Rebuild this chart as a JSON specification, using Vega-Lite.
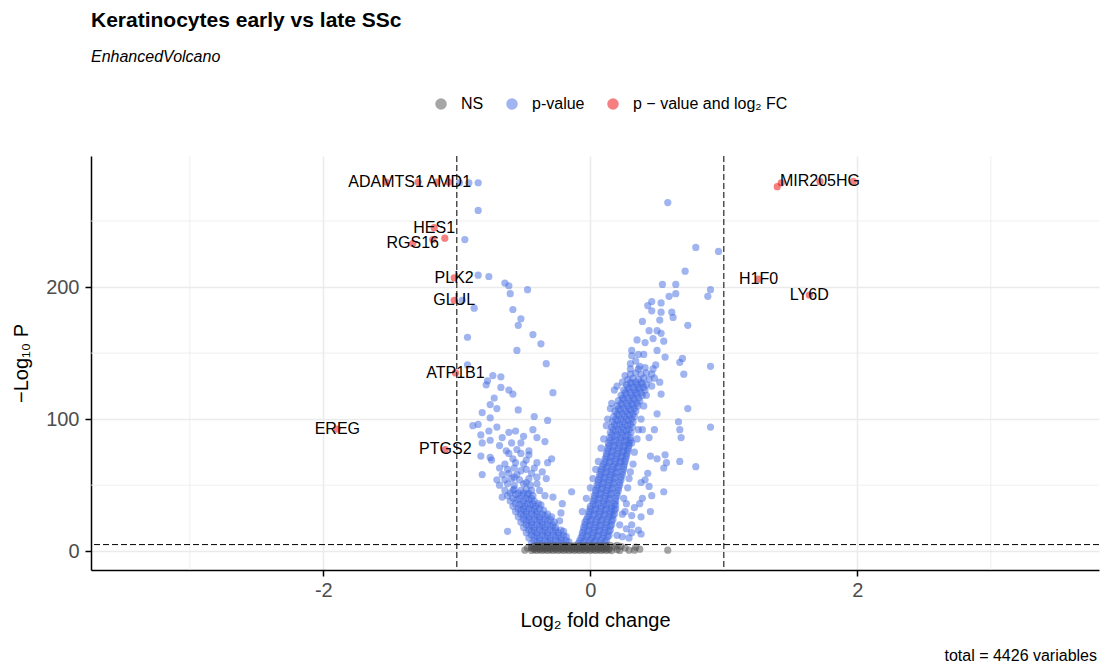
{
"$schema":"https://vega.github.io/schema/vega-lite/v6.json",
"width":1008,"height":414,
"autosize":{"type":"none"},
"padding":{"left":91,"top":156,"right":5,"bottom":94},
"background":"white",
"title":{"text":"Keratinocytes early vs late SSc","subtitle":"EnhancedVolcano","anchor":"start","frame":"group","fontSize":21,"fontWeight":"bold","color":"black","font":"Liberation Sans","subtitleFont":"Liberation Sans","subtitleFontSize":16,"subtitleFontStyle":"italic","subtitleColor":"black","subtitlePadding":18,"offset":31},
"config":{
"font":"Liberation Sans",
"view":{"stroke":null},
"axis":{"domainColor":"black","domainWidth":1.5,"tickColor":"black","tickWidth":1.5,"tickSize":6,"gridColor":"#ebebeb","gridWidth":1.5,"labelFont":"Liberation Sans","labelFontSize":20,"labelColor":"#4d4d4d","titleFont":"Liberation Sans","titleFontSize":20,"titleFontWeight":"normal","titleColor":"black"}
},
"datasets":{"genes":[
{"log2FC":-0.09,"mlog10P":6,"sig":"P"},{"log2FC":-0.05,"mlog10P":7,"sig":"P"},{"log2FC":-0.01,"mlog10P":6,"sig":"P"},{"log2FC":0.03,"mlog10P":7,"sig":"P"},{"log2FC":0.07,"mlog10P":6,"sig":"P"},{"log2FC":0.11,"mlog10P":7,"sig":"P"},
{"log2FC":-0.07,"mlog10P":10,"sig":"P"},{"log2FC":-0.03,"mlog10P":11,"sig":"P"},{"log2FC":0.01,"mlog10P":10,"sig":"P"},{"log2FC":0.05,"mlog10P":11,"sig":"P"},{"log2FC":0.09,"mlog10P":10,"sig":"P"},{"log2FC":0.13,"mlog10P":11,"sig":"P"},
{"log2FC":-0.06,"mlog10P":14,"sig":"P"},{"log2FC":-0.02,"mlog10P":15,"sig":"P"},{"log2FC":0.02,"mlog10P":14,"sig":"P"},{"log2FC":0.06,"mlog10P":15,"sig":"P"},{"log2FC":0.10,"mlog10P":14,"sig":"P"},{"log2FC":0.14,"mlog10P":15,"sig":"P"},
{"log2FC":-0.05,"mlog10P":18,"sig":"P"},{"log2FC":-0.01,"mlog10P":19,"sig":"P"},{"log2FC":0.03,"mlog10P":18,"sig":"P"},{"log2FC":0.07,"mlog10P":19,"sig":"P"},{"log2FC":0.11,"mlog10P":18,"sig":"P"},{"log2FC":0.15,"mlog10P":19,"sig":"P"},
{"log2FC":-0.04,"mlog10P":22,"sig":"P"},{"log2FC":0.0,"mlog10P":23,"sig":"P"},{"log2FC":0.04,"mlog10P":22,"sig":"P"},{"log2FC":0.08,"mlog10P":23,"sig":"P"},{"log2FC":0.12,"mlog10P":22,"sig":"P"},{"log2FC":0.16,"mlog10P":23,"sig":"P"},
{"log2FC":-0.02,"mlog10P":26,"sig":"P"},{"log2FC":0.02,"mlog10P":27,"sig":"P"},{"log2FC":0.06,"mlog10P":26,"sig":"P"},{"log2FC":0.10,"mlog10P":27,"sig":"P"},{"log2FC":0.14,"mlog10P":26,"sig":"P"},{"log2FC":0.17,"mlog10P":27,"sig":"P"},
{"log2FC":-0.01,"mlog10P":30,"sig":"P"},{"log2FC":0.03,"mlog10P":31,"sig":"P"},{"log2FC":0.07,"mlog10P":30,"sig":"P"},{"log2FC":0.11,"mlog10P":31,"sig":"P"},{"log2FC":0.15,"mlog10P":30,"sig":"P"},{"log2FC":0.18,"mlog10P":31,"sig":"P"},
{"log2FC":0.0,"mlog10P":34,"sig":"P"},{"log2FC":0.04,"mlog10P":35,"sig":"P"},{"log2FC":0.08,"mlog10P":34,"sig":"P"},{"log2FC":0.12,"mlog10P":35,"sig":"P"},{"log2FC":0.16,"mlog10P":34,"sig":"P"},{"log2FC":0.19,"mlog10P":35,"sig":"P"},
{"log2FC":0.02,"mlog10P":38,"sig":"P"},{"log2FC":0.06,"mlog10P":39,"sig":"P"},{"log2FC":0.10,"mlog10P":38,"sig":"P"},{"log2FC":0.14,"mlog10P":39,"sig":"P"},{"log2FC":0.19,"mlog10P":38,"sig":"P"},
{"log2FC":0.03,"mlog10P":42,"sig":"P"},{"log2FC":0.07,"mlog10P":43,"sig":"P"},{"log2FC":0.11,"mlog10P":42,"sig":"P"},{"log2FC":0.15,"mlog10P":43,"sig":"P"},{"log2FC":0.20,"mlog10P":42,"sig":"P"},
{"log2FC":0.04,"mlog10P":46,"sig":"P"},{"log2FC":0.08,"mlog10P":47,"sig":"P"},{"log2FC":0.12,"mlog10P":46,"sig":"P"},{"log2FC":0.16,"mlog10P":47,"sig":"P"},{"log2FC":0.21,"mlog10P":46,"sig":"P"},
{"log2FC":0.05,"mlog10P":50,"sig":"P"},{"log2FC":0.09,"mlog10P":51,"sig":"P"},{"log2FC":0.13,"mlog10P":50,"sig":"P"},{"log2FC":0.17,"mlog10P":51,"sig":"P"},{"log2FC":0.22,"mlog10P":50,"sig":"P"},
{"log2FC":0.06,"mlog10P":54,"sig":"P"},{"log2FC":0.10,"mlog10P":55,"sig":"P"},{"log2FC":0.14,"mlog10P":54,"sig":"P"},{"log2FC":0.18,"mlog10P":55,"sig":"P"},{"log2FC":0.23,"mlog10P":54,"sig":"P"},
{"log2FC":0.07,"mlog10P":58,"sig":"P"},{"log2FC":0.11,"mlog10P":59,"sig":"P"},{"log2FC":0.15,"mlog10P":58,"sig":"P"},{"log2FC":0.19,"mlog10P":59,"sig":"P"},{"log2FC":0.24,"mlog10P":58,"sig":"P"},
{"log2FC":0.08,"mlog10P":62,"sig":"P"},{"log2FC":0.12,"mlog10P":63,"sig":"P"},{"log2FC":0.16,"mlog10P":62,"sig":"P"},{"log2FC":0.20,"mlog10P":63,"sig":"P"},{"log2FC":0.25,"mlog10P":62,"sig":"P"},
{"log2FC":0.10,"mlog10P":66,"sig":"P"},{"log2FC":0.14,"mlog10P":67,"sig":"P"},{"log2FC":0.18,"mlog10P":66,"sig":"P"},{"log2FC":0.22,"mlog10P":67,"sig":"P"},{"log2FC":0.255,"mlog10P":66,"sig":"P"},
{"log2FC":0.11,"mlog10P":70,"sig":"P"},{"log2FC":0.15,"mlog10P":71,"sig":"P"},{"log2FC":0.19,"mlog10P":70,"sig":"P"},{"log2FC":0.23,"mlog10P":71,"sig":"P"},{"log2FC":0.265,"mlog10P":70,"sig":"P"},
{"log2FC":0.12,"mlog10P":74,"sig":"P"},{"log2FC":0.16,"mlog10P":75,"sig":"P"},{"log2FC":0.20,"mlog10P":74,"sig":"P"},{"log2FC":0.24,"mlog10P":75,"sig":"P"},{"log2FC":0.275,"mlog10P":74,"sig":"P"},
{"log2FC":0.13,"mlog10P":78,"sig":"P"},{"log2FC":0.17,"mlog10P":79,"sig":"P"},{"log2FC":0.21,"mlog10P":78,"sig":"P"},{"log2FC":0.25,"mlog10P":79,"sig":"P"},{"log2FC":0.285,"mlog10P":78,"sig":"P"},
{"log2FC":0.135,"mlog10P":82,"sig":"P"},{"log2FC":0.175,"mlog10P":83,"sig":"P"},{"log2FC":0.215,"mlog10P":82,"sig":"P"},{"log2FC":0.255,"mlog10P":83,"sig":"P"},{"log2FC":0.29,"mlog10P":82,"sig":"P"},
{"log2FC":0.145,"mlog10P":86,"sig":"P"},{"log2FC":0.185,"mlog10P":87,"sig":"P"},{"log2FC":0.225,"mlog10P":86,"sig":"P"},{"log2FC":0.265,"mlog10P":87,"sig":"P"},{"log2FC":0.30,"mlog10P":86,"sig":"P"},
{"log2FC":0.15,"mlog10P":90,"sig":"P"},{"log2FC":0.19,"mlog10P":91,"sig":"P"},{"log2FC":0.23,"mlog10P":90,"sig":"P"},{"log2FC":0.27,"mlog10P":91,"sig":"P"},{"log2FC":0.305,"mlog10P":90,"sig":"P"},
{"log2FC":0.16,"mlog10P":94,"sig":"P"},{"log2FC":0.20,"mlog10P":95,"sig":"P"},{"log2FC":0.24,"mlog10P":94,"sig":"P"},{"log2FC":0.28,"mlog10P":95,"sig":"P"},{"log2FC":0.315,"mlog10P":94,"sig":"P"},
{"log2FC":0.165,"mlog10P":98,"sig":"P"},{"log2FC":0.205,"mlog10P":99,"sig":"P"},{"log2FC":0.245,"mlog10P":98,"sig":"P"},{"log2FC":0.285,"mlog10P":99,"sig":"P"},{"log2FC":0.32,"mlog10P":98,"sig":"P"},
{"log2FC":0.175,"mlog10P":102,"sig":"P"},{"log2FC":0.215,"mlog10P":103,"sig":"P"},{"log2FC":0.255,"mlog10P":102,"sig":"P"},{"log2FC":0.295,"mlog10P":103,"sig":"P"},{"log2FC":0.33,"mlog10P":102,"sig":"P"},
{"log2FC":0.185,"mlog10P":106,"sig":"P"},{"log2FC":0.225,"mlog10P":107,"sig":"P"},{"log2FC":0.265,"mlog10P":106,"sig":"P"},{"log2FC":0.305,"mlog10P":107,"sig":"P"},{"log2FC":0.34,"mlog10P":106,"sig":"P"},
{"log2FC":0.20,"mlog10P":110,"sig":"P"},{"log2FC":0.24,"mlog10P":111,"sig":"P"},{"log2FC":0.28,"mlog10P":110,"sig":"P"},{"log2FC":0.32,"mlog10P":111,"sig":"P"},{"log2FC":0.355,"mlog10P":110,"sig":"P"},
{"log2FC":0.21,"mlog10P":114,"sig":"P"},{"log2FC":0.25,"mlog10P":115,"sig":"P"},{"log2FC":0.29,"mlog10P":114,"sig":"P"},{"log2FC":0.33,"mlog10P":115,"sig":"P"},{"log2FC":0.37,"mlog10P":114,"sig":"P"},
{"log2FC":0.23,"mlog10P":118,"sig":"P"},{"log2FC":0.27,"mlog10P":119,"sig":"P"},{"log2FC":0.31,"mlog10P":118,"sig":"P"},{"log2FC":0.35,"mlog10P":119,"sig":"P"},{"log2FC":0.39,"mlog10P":118,"sig":"P"},
{"log2FC":0.25,"mlog10P":122,"sig":"P"},{"log2FC":0.29,"mlog10P":123,"sig":"P"},{"log2FC":0.33,"mlog10P":122,"sig":"P"},{"log2FC":0.37,"mlog10P":123,"sig":"P"},{"log2FC":0.41,"mlog10P":122,"sig":"P"},
{"log2FC":0.27,"mlog10P":126,"sig":"P"},{"log2FC":0.31,"mlog10P":127,"sig":"P"},{"log2FC":0.35,"mlog10P":126,"sig":"P"},{"log2FC":0.39,"mlog10P":127,"sig":"P"},{"log2FC":0.42,"mlog10P":126,"sig":"P"},{"log2FC":0.46,"mlog10P":125,"sig":"P"},
{"log2FC":0.28,"mlog10P":130,"sig":"P"},{"log2FC":0.32,"mlog10P":131,"sig":"P"},{"log2FC":0.36,"mlog10P":130,"sig":"P"},{"log2FC":0.40,"mlog10P":131,"sig":"P"},{"log2FC":0.44,"mlog10P":130,"sig":"P"},{"log2FC":0.48,"mlog10P":131,"sig":"P"},
{"log2FC":0.30,"mlog10P":134,"sig":"P"},{"log2FC":0.34,"mlog10P":135,"sig":"P"},{"log2FC":0.38,"mlog10P":134,"sig":"P"},{"log2FC":0.42,"mlog10P":135,"sig":"P"},{"log2FC":0.46,"mlog10P":134,"sig":"P"},
{"log2FC":0.30,"mlog10P":138,"sig":"P"},{"log2FC":0.36,"mlog10P":138,"sig":"P"},{"log2FC":0.41,"mlog10P":139,"sig":"P"},{"log2FC":0.47,"mlog10P":138,"sig":"P"},
{"log2FC":-0.08,"mlog10P":8,"sig":"P"},{"log2FC":-0.04,"mlog10P":8,"sig":"P"},{"log2FC":0.0,"mlog10P":8,"sig":"P"},{"log2FC":0.04,"mlog10P":8,"sig":"P"},{"log2FC":0.08,"mlog10P":8,"sig":"P"},{"log2FC":0.12,"mlog10P":8,"sig":"P"},
{"log2FC":-0.06,"mlog10P":12,"sig":"P"},{"log2FC":-0.02,"mlog10P":12,"sig":"P"},{"log2FC":0.02,"mlog10P":12,"sig":"P"},{"log2FC":0.06,"mlog10P":12,"sig":"P"},{"log2FC":0.10,"mlog10P":12,"sig":"P"},{"log2FC":0.14,"mlog10P":12,"sig":"P"},
{"log2FC":-0.05,"mlog10P":16,"sig":"P"},{"log2FC":-0.01,"mlog10P":16,"sig":"P"},{"log2FC":0.03,"mlog10P":16,"sig":"P"},{"log2FC":0.07,"mlog10P":16,"sig":"P"},{"log2FC":0.11,"mlog10P":16,"sig":"P"},{"log2FC":0.15,"mlog10P":16,"sig":"P"},
{"log2FC":-0.04,"mlog10P":20,"sig":"P"},{"log2FC":0.0,"mlog10P":20,"sig":"P"},{"log2FC":0.04,"mlog10P":20,"sig":"P"},{"log2FC":0.08,"mlog10P":20,"sig":"P"},{"log2FC":0.12,"mlog10P":20,"sig":"P"},{"log2FC":0.16,"mlog10P":20,"sig":"P"},
{"log2FC":-0.03,"mlog10P":24,"sig":"P"},{"log2FC":0.01,"mlog10P":24,"sig":"P"},{"log2FC":0.05,"mlog10P":24,"sig":"P"},{"log2FC":0.09,"mlog10P":24,"sig":"P"},{"log2FC":0.13,"mlog10P":24,"sig":"P"},{"log2FC":0.17,"mlog10P":24,"sig":"P"},
{"log2FC":-0.01,"mlog10P":28,"sig":"P"},{"log2FC":0.03,"mlog10P":28,"sig":"P"},{"log2FC":0.07,"mlog10P":28,"sig":"P"},{"log2FC":0.11,"mlog10P":28,"sig":"P"},{"log2FC":0.15,"mlog10P":28,"sig":"P"},{"log2FC":0.18,"mlog10P":28,"sig":"P"},
{"log2FC":0.0,"mlog10P":32,"sig":"P"},{"log2FC":0.04,"mlog10P":32,"sig":"P"},{"log2FC":0.08,"mlog10P":32,"sig":"P"},{"log2FC":0.12,"mlog10P":32,"sig":"P"},{"log2FC":0.16,"mlog10P":32,"sig":"P"},{"log2FC":0.19,"mlog10P":32,"sig":"P"},
{"log2FC":0.02,"mlog10P":36,"sig":"P"},{"log2FC":0.06,"mlog10P":36,"sig":"P"},{"log2FC":0.10,"mlog10P":36,"sig":"P"},{"log2FC":0.14,"mlog10P":36,"sig":"P"},{"log2FC":0.18,"mlog10P":36,"sig":"P"},
{"log2FC":0.03,"mlog10P":40,"sig":"P"},{"log2FC":0.07,"mlog10P":40,"sig":"P"},{"log2FC":0.11,"mlog10P":40,"sig":"P"},{"log2FC":0.15,"mlog10P":40,"sig":"P"},{"log2FC":0.19,"mlog10P":40,"sig":"P"},
{"log2FC":0.04,"mlog10P":44,"sig":"P"},{"log2FC":0.08,"mlog10P":44,"sig":"P"},{"log2FC":0.12,"mlog10P":44,"sig":"P"},{"log2FC":0.16,"mlog10P":44,"sig":"P"},{"log2FC":0.20,"mlog10P":44,"sig":"P"},
{"log2FC":0.05,"mlog10P":48,"sig":"P"},{"log2FC":0.09,"mlog10P":48,"sig":"P"},{"log2FC":0.13,"mlog10P":48,"sig":"P"},{"log2FC":0.17,"mlog10P":48,"sig":"P"},{"log2FC":0.21,"mlog10P":48,"sig":"P"},
{"log2FC":0.06,"mlog10P":52,"sig":"P"},{"log2FC":0.10,"mlog10P":52,"sig":"P"},{"log2FC":0.14,"mlog10P":52,"sig":"P"},{"log2FC":0.18,"mlog10P":52,"sig":"P"},{"log2FC":0.22,"mlog10P":52,"sig":"P"},
{"log2FC":0.07,"mlog10P":56,"sig":"P"},{"log2FC":0.11,"mlog10P":56,"sig":"P"},{"log2FC":0.15,"mlog10P":56,"sig":"P"},{"log2FC":0.19,"mlog10P":56,"sig":"P"},{"log2FC":0.23,"mlog10P":56,"sig":"P"},
{"log2FC":0.08,"mlog10P":60,"sig":"P"},{"log2FC":0.12,"mlog10P":60,"sig":"P"},{"log2FC":0.16,"mlog10P":60,"sig":"P"},{"log2FC":0.20,"mlog10P":60,"sig":"P"},{"log2FC":0.24,"mlog10P":60,"sig":"P"},
{"log2FC":0.09,"mlog10P":64,"sig":"P"},{"log2FC":0.13,"mlog10P":64,"sig":"P"},{"log2FC":0.17,"mlog10P":64,"sig":"P"},{"log2FC":0.21,"mlog10P":64,"sig":"P"},{"log2FC":0.25,"mlog10P":64,"sig":"P"},
{"log2FC":0.11,"mlog10P":68,"sig":"P"},{"log2FC":0.15,"mlog10P":68,"sig":"P"},{"log2FC":0.19,"mlog10P":68,"sig":"P"},{"log2FC":0.23,"mlog10P":68,"sig":"P"},{"log2FC":0.26,"mlog10P":68,"sig":"P"},
{"log2FC":0.12,"mlog10P":72,"sig":"P"},{"log2FC":0.16,"mlog10P":72,"sig":"P"},{"log2FC":0.20,"mlog10P":72,"sig":"P"},{"log2FC":0.24,"mlog10P":72,"sig":"P"},{"log2FC":0.27,"mlog10P":72,"sig":"P"},
{"log2FC":0.13,"mlog10P":76,"sig":"P"},{"log2FC":0.17,"mlog10P":76,"sig":"P"},{"log2FC":0.21,"mlog10P":76,"sig":"P"},{"log2FC":0.25,"mlog10P":76,"sig":"P"},{"log2FC":0.28,"mlog10P":76,"sig":"P"},
{"log2FC":0.14,"mlog10P":80,"sig":"P"},{"log2FC":0.18,"mlog10P":80,"sig":"P"},{"log2FC":0.22,"mlog10P":80,"sig":"P"},{"log2FC":0.26,"mlog10P":80,"sig":"P"},{"log2FC":0.29,"mlog10P":80,"sig":"P"},
{"log2FC":0.15,"mlog10P":84,"sig":"P"},{"log2FC":0.19,"mlog10P":84,"sig":"P"},{"log2FC":0.23,"mlog10P":84,"sig":"P"},{"log2FC":0.27,"mlog10P":84,"sig":"P"},{"log2FC":0.30,"mlog10P":84,"sig":"P"},
{"log2FC":0.16,"mlog10P":88,"sig":"P"},{"log2FC":0.20,"mlog10P":88,"sig":"P"},{"log2FC":0.24,"mlog10P":88,"sig":"P"},{"log2FC":0.28,"mlog10P":88,"sig":"P"},
{"log2FC":0.17,"mlog10P":92,"sig":"P"},{"log2FC":0.21,"mlog10P":92,"sig":"P"},{"log2FC":0.25,"mlog10P":92,"sig":"P"},{"log2FC":0.29,"mlog10P":92,"sig":"P"},
{"log2FC":0.18,"mlog10P":96,"sig":"P"},{"log2FC":0.22,"mlog10P":96,"sig":"P"},{"log2FC":0.26,"mlog10P":96,"sig":"P"},{"log2FC":0.30,"mlog10P":96,"sig":"P"},
{"log2FC":0.19,"mlog10P":100,"sig":"P"},{"log2FC":0.23,"mlog10P":100,"sig":"P"},{"log2FC":0.27,"mlog10P":100,"sig":"P"},{"log2FC":0.31,"mlog10P":100,"sig":"P"},
{"log2FC":0.20,"mlog10P":104,"sig":"P"},{"log2FC":0.24,"mlog10P":104,"sig":"P"},{"log2FC":0.28,"mlog10P":104,"sig":"P"},{"log2FC":0.32,"mlog10P":104,"sig":"P"},
{"log2FC":0.21,"mlog10P":108,"sig":"P"},{"log2FC":0.25,"mlog10P":108,"sig":"P"},{"log2FC":0.29,"mlog10P":108,"sig":"P"},{"log2FC":0.33,"mlog10P":108,"sig":"P"},
{"log2FC":0.23,"mlog10P":112,"sig":"P"},{"log2FC":0.27,"mlog10P":112,"sig":"P"},{"log2FC":0.31,"mlog10P":112,"sig":"P"},{"log2FC":0.35,"mlog10P":112,"sig":"P"},
{"log2FC":0.24,"mlog10P":116,"sig":"P"},{"log2FC":0.28,"mlog10P":116,"sig":"P"},{"log2FC":0.32,"mlog10P":116,"sig":"P"},{"log2FC":0.36,"mlog10P":116,"sig":"P"},
{"log2FC":0.26,"mlog10P":120,"sig":"P"},{"log2FC":0.30,"mlog10P":120,"sig":"P"},{"log2FC":0.34,"mlog10P":120,"sig":"P"},{"log2FC":0.38,"mlog10P":120,"sig":"P"},
{"log2FC":0.28,"mlog10P":124,"sig":"P"},{"log2FC":0.32,"mlog10P":124,"sig":"P"},{"log2FC":0.36,"mlog10P":124,"sig":"P"},{"log2FC":0.40,"mlog10P":124,"sig":"P"},
{"log2FC":0.30,"mlog10P":128,"sig":"P"},{"log2FC":0.34,"mlog10P":128,"sig":"P"},{"log2FC":0.38,"mlog10P":128,"sig":"P"},
{"log2FC":0.25,"mlog10P":40,"sig":"P"},{"log2FC":0.28,"mlog10P":48,"sig":"P"},{"log2FC":0.30,"mlog10P":60,"sig":"P"},{"log2FC":0.33,"mlog10P":75,"sig":"P"},{"log2FC":0.35,"mlog10P":85,"sig":"P"},{"log2FC":0.38,"mlog10P":100,"sig":"P"},{"log2FC":0.26,"mlog10P":30,"sig":"P"},{"log2FC":0.22,"mlog10P":20,"sig":"P"},{"log2FC":0.20,"mlog10P":12,"sig":"P"},{"log2FC":0.32,"mlog10P":66,"sig":"P"},{"log2FC":0.36,"mlog10P":92,"sig":"P"},{"log2FC":0.40,"mlog10P":110,"sig":"P"},{"log2FC":0.42,"mlog10P":118,"sig":"P"},{"log2FC":0.29,"mlog10P":55,"sig":"P"},{"log2FC":0.31,"mlog10P":82,"sig":"P"},{"log2FC":0.27,"mlog10P":36,"sig":"P"},{"log2FC":0.24,"mlog10P":28,"sig":"P"},
{"log2FC":-0.03,"mlog10P":40,"sig":"P"},{"log2FC":0.02,"mlog10P":55,"sig":"P"},{"log2FC":0.06,"mlog10P":68,"sig":"P"},{"log2FC":0.10,"mlog10P":85,"sig":"P"},{"log2FC":0.13,"mlog10P":100,"sig":"P"},{"log2FC":0.16,"mlog10P":112,"sig":"P"},{"log2FC":0.20,"mlog10P":125,"sig":"P"},{"log2FC":-0.06,"mlog10P":30,"sig":"P"},{"log2FC":0.0,"mlog10P":48,"sig":"P"},{"log2FC":0.04,"mlog10P":62,"sig":"P"},{"log2FC":0.08,"mlog10P":78,"sig":"P"},{"log2FC":0.12,"mlog10P":95,"sig":"P"},{"log2FC":0.15,"mlog10P":108,"sig":"P"},
{"log2FC":-0.44,"mlog10P":6,"sig":"P"},{"log2FC":-0.40,"mlog10P":7,"sig":"P"},{"log2FC":-0.36,"mlog10P":6,"sig":"P"},{"log2FC":-0.32,"mlog10P":7,"sig":"P"},{"log2FC":-0.28,"mlog10P":6,"sig":"P"},{"log2FC":-0.24,"mlog10P":7,"sig":"P"},{"log2FC":-0.20,"mlog10P":6,"sig":"P"},{"log2FC":-0.16,"mlog10P":7,"sig":"P"},
{"log2FC":-0.46,"mlog10P":10,"sig":"P"},{"log2FC":-0.42,"mlog10P":11,"sig":"P"},{"log2FC":-0.38,"mlog10P":10,"sig":"P"},{"log2FC":-0.34,"mlog10P":11,"sig":"P"},{"log2FC":-0.30,"mlog10P":10,"sig":"P"},{"log2FC":-0.26,"mlog10P":11,"sig":"P"},{"log2FC":-0.22,"mlog10P":10,"sig":"P"},{"log2FC":-0.18,"mlog10P":11,"sig":"P"},
{"log2FC":-0.48,"mlog10P":14,"sig":"P"},{"log2FC":-0.44,"mlog10P":15,"sig":"P"},{"log2FC":-0.40,"mlog10P":14,"sig":"P"},{"log2FC":-0.36,"mlog10P":15,"sig":"P"},{"log2FC":-0.32,"mlog10P":14,"sig":"P"},{"log2FC":-0.28,"mlog10P":15,"sig":"P"},{"log2FC":-0.24,"mlog10P":14,"sig":"P"},{"log2FC":-0.20,"mlog10P":15,"sig":"P"},
{"log2FC":-0.50,"mlog10P":18,"sig":"P"},{"log2FC":-0.46,"mlog10P":19,"sig":"P"},{"log2FC":-0.42,"mlog10P":18,"sig":"P"},{"log2FC":-0.38,"mlog10P":19,"sig":"P"},{"log2FC":-0.34,"mlog10P":18,"sig":"P"},{"log2FC":-0.30,"mlog10P":19,"sig":"P"},{"log2FC":-0.26,"mlog10P":18,"sig":"P"},
{"log2FC":-0.52,"mlog10P":22,"sig":"P"},{"log2FC":-0.48,"mlog10P":23,"sig":"P"},{"log2FC":-0.44,"mlog10P":22,"sig":"P"},{"log2FC":-0.40,"mlog10P":23,"sig":"P"},{"log2FC":-0.36,"mlog10P":22,"sig":"P"},{"log2FC":-0.32,"mlog10P":23,"sig":"P"},{"log2FC":-0.27,"mlog10P":22,"sig":"P"},
{"log2FC":-0.54,"mlog10P":26,"sig":"P"},{"log2FC":-0.50,"mlog10P":27,"sig":"P"},{"log2FC":-0.46,"mlog10P":26,"sig":"P"},{"log2FC":-0.42,"mlog10P":27,"sig":"P"},{"log2FC":-0.38,"mlog10P":26,"sig":"P"},{"log2FC":-0.34,"mlog10P":27,"sig":"P"},{"log2FC":-0.29,"mlog10P":26,"sig":"P"},
{"log2FC":-0.56,"mlog10P":30,"sig":"P"},{"log2FC":-0.52,"mlog10P":31,"sig":"P"},{"log2FC":-0.48,"mlog10P":30,"sig":"P"},{"log2FC":-0.44,"mlog10P":31,"sig":"P"},{"log2FC":-0.40,"mlog10P":30,"sig":"P"},{"log2FC":-0.35,"mlog10P":31,"sig":"P"},
{"log2FC":-0.58,"mlog10P":34,"sig":"P"},{"log2FC":-0.53,"mlog10P":35,"sig":"P"},{"log2FC":-0.49,"mlog10P":34,"sig":"P"},{"log2FC":-0.45,"mlog10P":35,"sig":"P"},{"log2FC":-0.41,"mlog10P":34,"sig":"P"},{"log2FC":-0.37,"mlog10P":35,"sig":"P"},
{"log2FC":-0.60,"mlog10P":38,"sig":"P"},{"log2FC":-0.55,"mlog10P":39,"sig":"P"},{"log2FC":-0.50,"mlog10P":38,"sig":"P"},{"log2FC":-0.46,"mlog10P":39,"sig":"P"},{"log2FC":-0.42,"mlog10P":38,"sig":"P"},
{"log2FC":-0.62,"mlog10P":42,"sig":"P"},{"log2FC":-0.56,"mlog10P":43,"sig":"P"},{"log2FC":-0.51,"mlog10P":42,"sig":"P"},{"log2FC":-0.47,"mlog10P":43,"sig":"P"},{"log2FC":-0.43,"mlog10P":42,"sig":"P"},
{"log2FC":-0.64,"mlog10P":46,"sig":"P"},{"log2FC":-0.57,"mlog10P":47,"sig":"P"},{"log2FC":-0.52,"mlog10P":46,"sig":"P"},{"log2FC":-0.48,"mlog10P":47,"sig":"P"},{"log2FC":-0.44,"mlog10P":46,"sig":"P"},
{"log2FC":-0.42,"mlog10P":8,"sig":"P"},{"log2FC":-0.38,"mlog10P":8,"sig":"P"},{"log2FC":-0.34,"mlog10P":8,"sig":"P"},{"log2FC":-0.30,"mlog10P":8,"sig":"P"},{"log2FC":-0.26,"mlog10P":8,"sig":"P"},{"log2FC":-0.22,"mlog10P":8,"sig":"P"},{"log2FC":-0.18,"mlog10P":8,"sig":"P"},
{"log2FC":-0.44,"mlog10P":12,"sig":"P"},{"log2FC":-0.40,"mlog10P":12,"sig":"P"},{"log2FC":-0.36,"mlog10P":12,"sig":"P"},{"log2FC":-0.32,"mlog10P":12,"sig":"P"},{"log2FC":-0.28,"mlog10P":12,"sig":"P"},{"log2FC":-0.24,"mlog10P":12,"sig":"P"},{"log2FC":-0.20,"mlog10P":12,"sig":"P"},
{"log2FC":-0.46,"mlog10P":16,"sig":"P"},{"log2FC":-0.42,"mlog10P":16,"sig":"P"},{"log2FC":-0.38,"mlog10P":16,"sig":"P"},{"log2FC":-0.34,"mlog10P":16,"sig":"P"},{"log2FC":-0.30,"mlog10P":16,"sig":"P"},{"log2FC":-0.26,"mlog10P":16,"sig":"P"},{"log2FC":-0.22,"mlog10P":16,"sig":"P"},
{"log2FC":-0.48,"mlog10P":20,"sig":"P"},{"log2FC":-0.44,"mlog10P":20,"sig":"P"},{"log2FC":-0.40,"mlog10P":20,"sig":"P"},{"log2FC":-0.36,"mlog10P":20,"sig":"P"},{"log2FC":-0.32,"mlog10P":20,"sig":"P"},{"log2FC":-0.28,"mlog10P":20,"sig":"P"},
{"log2FC":-0.50,"mlog10P":24,"sig":"P"},{"log2FC":-0.46,"mlog10P":24,"sig":"P"},{"log2FC":-0.42,"mlog10P":24,"sig":"P"},{"log2FC":-0.38,"mlog10P":24,"sig":"P"},{"log2FC":-0.34,"mlog10P":24,"sig":"P"},{"log2FC":-0.30,"mlog10P":24,"sig":"P"},
{"log2FC":-0.52,"mlog10P":28,"sig":"P"},{"log2FC":-0.48,"mlog10P":28,"sig":"P"},{"log2FC":-0.44,"mlog10P":28,"sig":"P"},{"log2FC":-0.40,"mlog10P":28,"sig":"P"},{"log2FC":-0.36,"mlog10P":28,"sig":"P"},{"log2FC":-0.32,"mlog10P":28,"sig":"P"},
{"log2FC":-0.54,"mlog10P":32,"sig":"P"},{"log2FC":-0.50,"mlog10P":32,"sig":"P"},{"log2FC":-0.46,"mlog10P":32,"sig":"P"},{"log2FC":-0.42,"mlog10P":32,"sig":"P"},{"log2FC":-0.38,"mlog10P":32,"sig":"P"},
{"log2FC":-0.56,"mlog10P":36,"sig":"P"},{"log2FC":-0.51,"mlog10P":36,"sig":"P"},{"log2FC":-0.47,"mlog10P":36,"sig":"P"},{"log2FC":-0.43,"mlog10P":36,"sig":"P"},{"log2FC":-0.39,"mlog10P":36,"sig":"P"},
{"log2FC":-0.58,"mlog10P":40,"sig":"P"},{"log2FC":-0.53,"mlog10P":40,"sig":"P"},{"log2FC":-0.48,"mlog10P":40,"sig":"P"},{"log2FC":-0.44,"mlog10P":40,"sig":"P"},
{"log2FC":-0.60,"mlog10P":44,"sig":"P"},{"log2FC":-0.54,"mlog10P":44,"sig":"P"},{"log2FC":-0.50,"mlog10P":44,"sig":"P"},{"log2FC":-0.46,"mlog10P":44,"sig":"P"},
{"log2FC":-0.68,"mlog10P":50,"sig":"P"},{"log2FC":-0.62,"mlog10P":51,"sig":"P"},{"log2FC":-0.57,"mlog10P":50,"sig":"P"},{"log2FC":-0.50,"mlog10P":51,"sig":"P"},{"log2FC":-0.45,"mlog10P":50,"sig":"P"},{"log2FC":-0.40,"mlog10P":51,"sig":"P"},
{"log2FC":-0.64,"mlog10P":54,"sig":"P"},{"log2FC":-0.59,"mlog10P":55,"sig":"P"},{"log2FC":-0.53,"mlog10P":54,"sig":"P"},{"log2FC":-0.46,"mlog10P":55,"sig":"P"},
{"log2FC":-0.66,"mlog10P":58,"sig":"P"},{"log2FC":-0.61,"mlog10P":59,"sig":"P"},{"log2FC":-0.55,"mlog10P":58,"sig":"P"},{"log2FC":-0.44,"mlog10P":59,"sig":"P"},
{"log2FC":-0.62,"mlog10P":62,"sig":"P"},{"log2FC":-0.57,"mlog10P":63,"sig":"P"},{"log2FC":-0.48,"mlog10P":62,"sig":"P"},{"log2FC":-0.42,"mlog10P":63,"sig":"P"},
{"log2FC":-0.64,"mlog10P":66,"sig":"P"},{"log2FC":-0.56,"mlog10P":67,"sig":"P"},{"log2FC":-0.50,"mlog10P":66,"sig":"P"},
{"log2FC":-0.63,"mlog10P":76,"sig":"P"},{"log2FC":-0.55,"mlog10P":77,"sig":"P"},{"log2FC":-0.46,"mlog10P":76,"sig":"P"},
{"log2FC":-0.66,"mlog10P":86,"sig":"P"},{"log2FC":-0.50,"mlog10P":87,"sig":"P"},{"log2FC":-0.40,"mlog10P":86,"sig":"P"},
{"log2FC":-0.98,"mlog10P":279,"sig":"P"},{"log2FC":-0.91,"mlog10P":279,"sig":"P"},{"log2FC":-0.84,"mlog10P":279,"sig":"P"},{"log2FC":-0.84,"mlog10P":258,"sig":"P"},{"log2FC":-0.94,"mlog10P":236,"sig":"P"},{"log2FC":-0.84,"mlog10P":209,"sig":"P"},{"log2FC":-0.76,"mlog10P":208,"sig":"P"},{"log2FC":-0.64,"mlog10P":203,"sig":"P"},{"log2FC":-0.61,"mlog10P":201,"sig":"P"},{"log2FC":-0.60,"mlog10P":195,"sig":"P"},{"log2FC":-0.47,"mlog10P":198,"sig":"P"},{"log2FC":-0.96,"mlog10P":190,"sig":"P"},{"log2FC":-0.87,"mlog10P":184,"sig":"P"},{"log2FC":-0.58,"mlog10P":183,"sig":"P"},{"log2FC":-0.52,"mlog10P":176,"sig":"P"},{"log2FC":-0.54,"mlog10P":171,"sig":"P"},{"log2FC":-0.92,"mlog10P":162,"sig":"P"},{"log2FC":-0.43,"mlog10P":164,"sig":"P"},{"log2FC":-0.37,"mlog10P":157,"sig":"P"},{"log2FC":-0.55,"mlog10P":152,"sig":"P"},{"log2FC":-0.33,"mlog10P":142,"sig":"P"},{"log2FC":-0.92,"mlog10P":141,"sig":"P"},{"log2FC":-0.73,"mlog10P":133,"sig":"P"},{"log2FC":-0.67,"mlog10P":132,"sig":"P"},{"log2FC":-0.77,"mlog10P":129,"sig":"P"},{"log2FC":-0.78,"mlog10P":126,"sig":"P"},{"log2FC":-0.67,"mlog10P":124,"sig":"P"},{"log2FC":-0.61,"mlog10P":122,"sig":"P"},{"log2FC":-0.58,"mlog10P":119,"sig":"P"},{"log2FC":-0.28,"mlog10P":120,"sig":"P"},{"log2FC":-0.72,"mlog10P":116,"sig":"P"},{"log2FC":-0.75,"mlog10P":111,"sig":"P"},{"log2FC":-0.70,"mlog10P":108,"sig":"P"},{"log2FC":-0.54,"mlog10P":107,"sig":"P"},{"log2FC":-0.81,"mlog10P":105,"sig":"P"},{"log2FC":-0.75,"mlog10P":101,"sig":"P"},{"log2FC":-0.42,"mlog10P":102,"sig":"P"},{"log2FC":-0.32,"mlog10P":99,"sig":"P"},{"log2FC":-0.88,"mlog10P":95,"sig":"P"},{"log2FC":-0.84,"mlog10P":96,"sig":"P"},{"log2FC":-0.70,"mlog10P":94,"sig":"P"},{"log2FC":-0.76,"mlog10P":91,"sig":"P"},{"log2FC":-0.61,"mlog10P":90,"sig":"P"},{"log2FC":-0.56,"mlog10P":91,"sig":"P"},{"log2FC":-0.43,"mlog10P":92,"sig":"P"},{"log2FC":-0.82,"mlog10P":88,"sig":"P"},{"log2FC":-0.75,"mlog10P":84,"sig":"P"},{"log2FC":-0.81,"mlog10P":82,"sig":"P"},{"log2FC":-0.34,"mlog10P":83,"sig":"P"},{"log2FC":-0.68,"mlog10P":80,"sig":"P"},{"log2FC":-0.59,"mlog10P":82,"sig":"P"},{"log2FC":-0.52,"mlog10P":82,"sig":"P"},{"log2FC":-0.82,"mlog10P":72,"sig":"P"},{"log2FC":-0.75,"mlog10P":71,"sig":"P"},{"log2FC":-0.61,"mlog10P":74,"sig":"P"},{"log2FC":-0.52,"mlog10P":74,"sig":"P"},{"log2FC":-0.46,"mlog10P":73,"sig":"P"},{"log2FC":-0.74,"mlog10P":69,"sig":"P"},{"log2FC":-0.58,"mlog10P":70,"sig":"P"},{"log2FC":-0.48,"mlog10P":69,"sig":"P"},{"log2FC":-0.40,"mlog10P":67,"sig":"P"},{"log2FC":-0.32,"mlog10P":67,"sig":"P"},{"log2FC":-0.29,"mlog10P":70,"sig":"P"},{"log2FC":-0.81,"mlog10P":58,"sig":"P"},{"log2FC":-0.68,"mlog10P":63,"sig":"P"},{"log2FC":-0.70,"mlog10P":54,"sig":"P"},{"log2FC":-0.66,"mlog10P":41,"sig":"P"},{"log2FC":-0.62,"mlog10P":15,"sig":"P"},{"log2FC":-0.14,"mlog10P":45,"sig":"P"},{"log2FC":-0.21,"mlog10P":36,"sig":"P"},{"log2FC":-0.28,"mlog10P":41,"sig":"P"},{"log2FC":-0.22,"mlog10P":29,"sig":"P"},{"log2FC":-0.23,"mlog10P":23,"sig":"P"},{"log2FC":-0.58,"mlog10P":46,"sig":"P"},{"log2FC":-0.57,"mlog10P":56,"sig":"P"},{"log2FC":-0.52,"mlog10P":61,"sig":"P"},{"log2FC":-0.48,"mlog10P":52,"sig":"P"},{"log2FC":-0.38,"mlog10P":46,"sig":"P"},{"log2FC":-0.34,"mlog10P":42,"sig":"P"},{"log2FC":-0.40,"mlog10P":56,"sig":"P"},{"log2FC":-0.33,"mlog10P":55,"sig":"P"},{"log2FC":-0.36,"mlog10P":60,"sig":"P"},
{"log2FC":0.58,"mlog10P":264,"sig":"P"},{"log2FC":0.79,"mlog10P":230,"sig":"P"},{"log2FC":0.96,"mlog10P":227,"sig":"P"},{"log2FC":0.71,"mlog10P":212,"sig":"P"},{"log2FC":0.54,"mlog10P":202,"sig":"P"},{"log2FC":0.64,"mlog10P":202,"sig":"P"},{"log2FC":0.90,"mlog10P":198,"sig":"P"},{"log2FC":0.88,"mlog10P":193,"sig":"P"},{"log2FC":0.59,"mlog10P":193,"sig":"P"},{"log2FC":0.64,"mlog10P":195,"sig":"P"},{"log2FC":0.43,"mlog10P":186,"sig":"P"},{"log2FC":0.46,"mlog10P":189,"sig":"P"},{"log2FC":0.53,"mlog10P":188,"sig":"P"},{"log2FC":0.46,"mlog10P":182,"sig":"P"},{"log2FC":0.53,"mlog10P":181,"sig":"P"},{"log2FC":0.61,"mlog10P":181,"sig":"P"},{"log2FC":0.62,"mlog10P":177,"sig":"P"},{"log2FC":0.39,"mlog10P":174,"sig":"P"},{"log2FC":0.52,"mlog10P":175,"sig":"P"},{"log2FC":0.73,"mlog10P":171,"sig":"P"},{"log2FC":0.44,"mlog10P":167,"sig":"P"},{"log2FC":0.50,"mlog10P":167,"sig":"P"},{"log2FC":0.53,"mlog10P":165,"sig":"P"},{"log2FC":0.35,"mlog10P":160,"sig":"P"},{"log2FC":0.41,"mlog10P":158,"sig":"P"},{"log2FC":0.55,"mlog10P":159,"sig":"P"},{"log2FC":0.47,"mlog10P":161,"sig":"P"},{"log2FC":0.31,"mlog10P":152,"sig":"P"},{"log2FC":0.40,"mlog10P":149,"sig":"P"},{"log2FC":0.50,"mlog10P":152,"sig":"P"},{"log2FC":0.31,"mlog10P":148,"sig":"P"},{"log2FC":0.36,"mlog10P":149,"sig":"P"},{"log2FC":0.56,"mlog10P":147,"sig":"P"},{"log2FC":0.67,"mlog10P":143,"sig":"P"},{"log2FC":0.69,"mlog10P":146,"sig":"P"},{"log2FC":0.90,"mlog10P":140,"sig":"P"},{"log2FC":0.30,"mlog10P":142,"sig":"P"},{"log2FC":0.34,"mlog10P":144,"sig":"P"},{"log2FC":0.49,"mlog10P":141,"sig":"P"},{"log2FC":0.70,"mlog10P":134,"sig":"P"},{"log2FC":0.26,"mlog10P":133,"sig":"P"},{"log2FC":0.37,"mlog10P":140,"sig":"P"},{"log2FC":0.24,"mlog10P":128,"sig":"P"},{"log2FC":0.52,"mlog10P":128,"sig":"P"},{"log2FC":0.18,"mlog10P":122,"sig":"P"},{"log2FC":0.53,"mlog10P":119,"sig":"P"},{"log2FC":0.73,"mlog10P":108,"sig":"P"},{"log2FC":0.50,"mlog10P":104,"sig":"P"},{"log2FC":0.66,"mlog10P":98,"sig":"P"},{"log2FC":0.67,"mlog10P":92,"sig":"P"},{"log2FC":0.68,"mlog10P":86,"sig":"P"},{"log2FC":0.90,"mlog10P":94,"sig":"P"},{"log2FC":0.48,"mlog10P":92,"sig":"P"},{"log2FC":0.39,"mlog10P":92,"sig":"P"},{"log2FC":0.44,"mlog10P":86,"sig":"P"},{"log2FC":0.45,"mlog10P":72,"sig":"P"},{"log2FC":0.50,"mlog10P":70,"sig":"P"},{"log2FC":0.56,"mlog10P":73,"sig":"P"},{"log2FC":0.55,"mlog10P":63,"sig":"P"},{"log2FC":0.57,"mlog10P":67,"sig":"P"},{"log2FC":0.67,"mlog10P":68,"sig":"P"},{"log2FC":0.79,"mlog10P":64,"sig":"P"},{"log2FC":0.43,"mlog10P":59,"sig":"P"},{"log2FC":0.41,"mlog10P":54,"sig":"P"},{"log2FC":0.44,"mlog10P":49,"sig":"P"},{"log2FC":0.38,"mlog10P":52,"sig":"P"},{"log2FC":0.46,"mlog10P":42,"sig":"P"},{"log2FC":0.55,"mlog10P":45,"sig":"P"},{"log2FC":0.39,"mlog10P":40,"sig":"P"},{"log2FC":0.37,"mlog10P":36,"sig":"P"},{"log2FC":0.33,"mlog10P":33,"sig":"P"},{"log2FC":0.31,"mlog10P":27,"sig":"P"},{"log2FC":0.38,"mlog10P":26,"sig":"P"},{"log2FC":0.45,"mlog10P":30,"sig":"P"},{"log2FC":0.31,"mlog10P":20,"sig":"P"},{"log2FC":0.27,"mlog10P":17,"sig":"P"},{"log2FC":0.36,"mlog10P":16,"sig":"P"},{"log2FC":0.38,"mlog10P":13,"sig":"P"},{"log2FC":0.31,"mlog10P":14,"sig":"P"},{"log2FC":0.29,"mlog10P":10,"sig":"P"},{"log2FC":0.24,"mlog10P":11,"sig":"P"},
{"log2FC":-0.44,"mlog10P":0.6,"sig":"NS"},{"log2FC":-0.40,"mlog10P":0.6,"sig":"NS"},{"log2FC":-0.36,"mlog10P":0.6,"sig":"NS"},{"log2FC":-0.32,"mlog10P":0.6,"sig":"NS"},{"log2FC":-0.28,"mlog10P":0.6,"sig":"NS"},{"log2FC":-0.24,"mlog10P":0.6,"sig":"NS"},{"log2FC":-0.20,"mlog10P":0.6,"sig":"NS"},{"log2FC":-0.16,"mlog10P":0.6,"sig":"NS"},{"log2FC":-0.12,"mlog10P":0.6,"sig":"NS"},{"log2FC":-0.08,"mlog10P":0.6,"sig":"NS"},{"log2FC":-0.04,"mlog10P":0.6,"sig":"NS"},{"log2FC":0.0,"mlog10P":0.6,"sig":"NS"},{"log2FC":0.04,"mlog10P":0.6,"sig":"NS"},{"log2FC":0.08,"mlog10P":0.6,"sig":"NS"},{"log2FC":0.12,"mlog10P":0.6,"sig":"NS"},
{"log2FC":-0.42,"mlog10P":1.2,"sig":"NS"},{"log2FC":-0.38,"mlog10P":1.2,"sig":"NS"},{"log2FC":-0.34,"mlog10P":1.2,"sig":"NS"},{"log2FC":-0.30,"mlog10P":1.2,"sig":"NS"},{"log2FC":-0.26,"mlog10P":1.2,"sig":"NS"},{"log2FC":-0.22,"mlog10P":1.2,"sig":"NS"},{"log2FC":-0.18,"mlog10P":1.2,"sig":"NS"},{"log2FC":-0.14,"mlog10P":1.2,"sig":"NS"},{"log2FC":-0.10,"mlog10P":1.2,"sig":"NS"},{"log2FC":-0.06,"mlog10P":1.2,"sig":"NS"},{"log2FC":-0.02,"mlog10P":1.2,"sig":"NS"},{"log2FC":0.02,"mlog10P":1.2,"sig":"NS"},{"log2FC":0.06,"mlog10P":1.2,"sig":"NS"},{"log2FC":0.10,"mlog10P":1.2,"sig":"NS"},{"log2FC":0.14,"mlog10P":1.2,"sig":"NS"},
{"log2FC":-0.42,"mlog10P":1.8,"sig":"NS"},{"log2FC":-0.38,"mlog10P":1.8,"sig":"NS"},{"log2FC":-0.34,"mlog10P":1.8,"sig":"NS"},{"log2FC":-0.30,"mlog10P":1.8,"sig":"NS"},{"log2FC":-0.26,"mlog10P":1.8,"sig":"NS"},{"log2FC":-0.22,"mlog10P":1.8,"sig":"NS"},{"log2FC":-0.18,"mlog10P":1.8,"sig":"NS"},{"log2FC":-0.14,"mlog10P":1.8,"sig":"NS"},{"log2FC":-0.10,"mlog10P":1.8,"sig":"NS"},{"log2FC":-0.06,"mlog10P":1.8,"sig":"NS"},{"log2FC":-0.02,"mlog10P":1.8,"sig":"NS"},{"log2FC":0.02,"mlog10P":1.8,"sig":"NS"},{"log2FC":0.06,"mlog10P":1.8,"sig":"NS"},{"log2FC":0.10,"mlog10P":1.8,"sig":"NS"},{"log2FC":0.14,"mlog10P":1.8,"sig":"NS"},
{"log2FC":-0.44,"mlog10P":2.4,"sig":"NS"},{"log2FC":-0.40,"mlog10P":2.4,"sig":"NS"},{"log2FC":-0.36,"mlog10P":2.4,"sig":"NS"},{"log2FC":-0.32,"mlog10P":2.4,"sig":"NS"},{"log2FC":-0.28,"mlog10P":2.4,"sig":"NS"},{"log2FC":-0.24,"mlog10P":2.4,"sig":"NS"},{"log2FC":-0.20,"mlog10P":2.4,"sig":"NS"},{"log2FC":-0.16,"mlog10P":2.4,"sig":"NS"},{"log2FC":-0.12,"mlog10P":2.4,"sig":"NS"},{"log2FC":-0.08,"mlog10P":2.4,"sig":"NS"},{"log2FC":-0.04,"mlog10P":2.4,"sig":"NS"},{"log2FC":0.0,"mlog10P":2.4,"sig":"NS"},{"log2FC":0.04,"mlog10P":2.4,"sig":"NS"},{"log2FC":0.08,"mlog10P":2.4,"sig":"NS"},{"log2FC":0.12,"mlog10P":2.4,"sig":"NS"},
{"log2FC":-0.44,"mlog10P":3.0,"sig":"NS"},{"log2FC":-0.40,"mlog10P":3.0,"sig":"NS"},{"log2FC":-0.36,"mlog10P":3.0,"sig":"NS"},{"log2FC":-0.32,"mlog10P":3.0,"sig":"NS"},{"log2FC":-0.28,"mlog10P":3.0,"sig":"NS"},{"log2FC":-0.24,"mlog10P":3.0,"sig":"NS"},{"log2FC":-0.20,"mlog10P":3.0,"sig":"NS"},{"log2FC":-0.16,"mlog10P":3.0,"sig":"NS"},{"log2FC":-0.12,"mlog10P":3.0,"sig":"NS"},{"log2FC":-0.08,"mlog10P":3.0,"sig":"NS"},{"log2FC":-0.04,"mlog10P":3.0,"sig":"NS"},{"log2FC":0.0,"mlog10P":3.0,"sig":"NS"},{"log2FC":0.04,"mlog10P":3.0,"sig":"NS"},{"log2FC":0.08,"mlog10P":3.0,"sig":"NS"},{"log2FC":0.12,"mlog10P":3.0,"sig":"NS"},
{"log2FC":-0.42,"mlog10P":3.6,"sig":"NS"},{"log2FC":-0.38,"mlog10P":3.6,"sig":"NS"},{"log2FC":-0.34,"mlog10P":3.6,"sig":"NS"},{"log2FC":-0.30,"mlog10P":3.6,"sig":"NS"},{"log2FC":-0.26,"mlog10P":3.6,"sig":"NS"},{"log2FC":-0.22,"mlog10P":3.6,"sig":"NS"},{"log2FC":-0.18,"mlog10P":3.6,"sig":"NS"},{"log2FC":-0.14,"mlog10P":3.6,"sig":"NS"},{"log2FC":-0.10,"mlog10P":3.6,"sig":"NS"},{"log2FC":-0.06,"mlog10P":3.6,"sig":"NS"},{"log2FC":-0.02,"mlog10P":3.6,"sig":"NS"},{"log2FC":0.02,"mlog10P":3.6,"sig":"NS"},{"log2FC":0.06,"mlog10P":3.6,"sig":"NS"},{"log2FC":0.10,"mlog10P":3.6,"sig":"NS"},
{"log2FC":-0.40,"mlog10P":4.2,"sig":"NS"},{"log2FC":-0.36,"mlog10P":4.2,"sig":"NS"},{"log2FC":-0.32,"mlog10P":4.2,"sig":"NS"},{"log2FC":-0.28,"mlog10P":4.2,"sig":"NS"},{"log2FC":-0.24,"mlog10P":4.2,"sig":"NS"},{"log2FC":-0.20,"mlog10P":4.2,"sig":"NS"},{"log2FC":-0.16,"mlog10P":4.2,"sig":"NS"},{"log2FC":-0.12,"mlog10P":4.2,"sig":"NS"},{"log2FC":-0.08,"mlog10P":4.2,"sig":"NS"},{"log2FC":-0.04,"mlog10P":4.2,"sig":"NS"},{"log2FC":0.0,"mlog10P":4.2,"sig":"NS"},{"log2FC":0.04,"mlog10P":4.2,"sig":"NS"},{"log2FC":0.08,"mlog10P":4.2,"sig":"NS"},{"log2FC":0.12,"mlog10P":4.2,"sig":"NS"},
{"log2FC":0.18,"mlog10P":3.2,"sig":"NS"},{"log2FC":0.20,"mlog10P":1.2,"sig":"NS"},{"log2FC":0.22,"mlog10P":0.6,"sig":"NS"},{"log2FC":0.26,"mlog10P":2.4,"sig":"NS"},{"log2FC":0.29,"mlog10P":0.8,"sig":"NS"},{"log2FC":0.33,"mlog10P":0.8,"sig":"NS"},{"log2FC":0.34,"mlog10P":3.0,"sig":"NS"},{"log2FC":0.37,"mlog10P":1.5,"sig":"NS"},{"log2FC":0.58,"mlog10P":0.8,"sig":"NS"},{"log2FC":-0.49,"mlog10P":0.8,"sig":"NS"},{"log2FC":-0.47,"mlog10P":2.5,"sig":"NS"},{"log2FC":0.16,"mlog10P":0.5,"sig":"NS"},{"log2FC":0.15,"mlog10P":4.5,"sig":"NS"},{"log2FC":0.20,"mlog10P":4.4,"sig":"NS"},{"log2FC":0.23,"mlog10P":3.6,"sig":"NS"},
{"log2FC":-1.53,"mlog10P":279.5,"sig":"FC","gene":"ADAMTS1"},{"log2FC":-1.29,"mlog10P":279.5,"sig":"FC"},{"log2FC":-1.15,"mlog10P":279.5,"sig":"FC"},{"log2FC":-1.06,"mlog10P":279.5,"sig":"FC","gene":"AMD1"},
{"log2FC":-1.17,"mlog10P":245,"sig":"FC","gene":"HES1"},{"log2FC":-1.09,"mlog10P":237,"sig":"FC"},{"log2FC":-1.18,"mlog10P":236,"sig":"FC"},{"log2FC":-1.33,"mlog10P":233,"sig":"FC","gene":"RGS16"},
{"log2FC":-1.02,"mlog10P":207,"sig":"FC","gene":"PLK2"},{"log2FC":-1.02,"mlog10P":190,"sig":"FC","gene":"GLUL"},{"log2FC":-1.01,"mlog10P":135,"sig":"FC","gene":"ATP1B1"},{"log2FC":-1.895,"mlog10P":92.5,"sig":"FC","gene":"EREG"},{"log2FC":-1.086,"mlog10P":77,"sig":"FC","gene":"PTGS2"},
{"log2FC":1.72,"mlog10P":280,"sig":"FC","gene":"MIR205HG"},{"log2FC":1.40,"mlog10P":276,"sig":"FC"},{"log2FC":1.43,"mlog10P":279,"sig":"FC"},{"log2FC":1.97,"mlog10P":280,"sig":"FC"},
{"log2FC":1.26,"mlog10P":206,"sig":"FC","gene":"H1F0"},{"log2FC":1.64,"mlog10P":194,"sig":"FC","gene":"LY6D"}
]},
"layer":[
{"data":{"values":[{"v":-3},{"v":-1},{"v":1},{"v":3}]},
 "mark":{"type":"rule","color":"#ebebeb","strokeWidth":0.8},
 "encoding":{"x":{"field":"v","type":"quantitative","scale":{"domain":[-3.74,3.81],"nice":false,"zero":false}}}},
{"data":{"values":[{"v":50},{"v":150},{"v":250}]},
 "mark":{"type":"rule","color":"#ebebeb","strokeWidth":0.8},
 "encoding":{"y":{"field":"v","type":"quantitative","scale":{"domain":[-14.25,299.25],"nice":false,"zero":false}}}},
{"data":{"name":"genes"},
 "mark":{"type":"circle","size":52,"opacity":0.5},
 "encoding":{
  "x":{"field":"log2FC","type":"quantitative","scale":{"domain":[-3.74,3.81],"nice":false,"zero":false},"title":"Log₂ fold change","axis":{"values":[-2,0,2],"labelExpr":"datum.value < 0 ? '-' + abs(datum.value) : '' + datum.value","labelPadding":4,"titlePadding":10,"grid":true}},
  "y":{"field":"mlog10P","type":"quantitative","scale":{"domain":[-14.25,299.25],"nice":false,"zero":false},"title":"−Log₁₀ P","axis":{"values":[0,100,200],"labelPadding":6,"titlePadding":14,"grid":true}},
  "color":{"field":"sig","type":"nominal","scale":{"domain":["NS","P","FC"],"range":["#4d4d4d","#4169e1","#ee0000"]},
   "legend":{"title":null,"orient":"none","legendX":342,"legendY":-60,"direction":"horizontal","symbolType":"circle","symbolSize":133,"symbolOpacity":0.5,"symbolStrokeWidth":0,"labelFontSize":16,"labelFont":"Liberation Sans","labelColor":"black","labelOffset":12,"columnPadding":20,"padding":0,"labelExpr":"datum.value == 'P' ? 'p-value' : datum.value == 'FC' ? 'p − value and log₂ FC' : 'NS'"}}
 }},
{"data":{"values":[{"v":-1},{"v":1}]},
 "mark":{"type":"rule","color":"black","strokeWidth":1,"strokeDash":[6,3]},
 "encoding":{"x":{"field":"v","type":"quantitative","scale":{"domain":[-3.74,3.81],"nice":false,"zero":false}}}},
{"data":{"values":[{"v":5}]},
 "mark":{"type":"rule","color":"black","strokeWidth":1,"strokeDash":[6,3]},
 "encoding":{"y":{"field":"v","type":"quantitative","scale":{"domain":[-14.25,299.25],"nice":false,"zero":false}}}},
{"data":{"name":"genes"},
 "transform":[{"filter":"isValid(datum.gene)"}],
 "mark":{"type":"text","font":"Liberation Sans","fontSize":16,"color":"black","align":"center","baseline":"middle"},
 "encoding":{
  "x":{"field":"log2FC","type":"quantitative","scale":{"domain":[-3.74,3.81],"nice":false,"zero":false}},
  "y":{"field":"mlog10P","type":"quantitative","scale":{"domain":[-14.25,299.25],"nice":false,"zero":false}},
  "text":{"field":"gene","type":"nominal"}}},
{"data":{"values":[{"caption":"total = 4426 variables"}]},
 "mark":{"type":"text","font":"Liberation Sans","fontSize":16,"color":"black","align":"right","baseline":"alphabetic","dx":-2,"dy":91},
 "encoding":{"x":{"value":"width"},"y":{"value":"height"},"text":{"field":"caption","type":"nominal"}}}
]
}
